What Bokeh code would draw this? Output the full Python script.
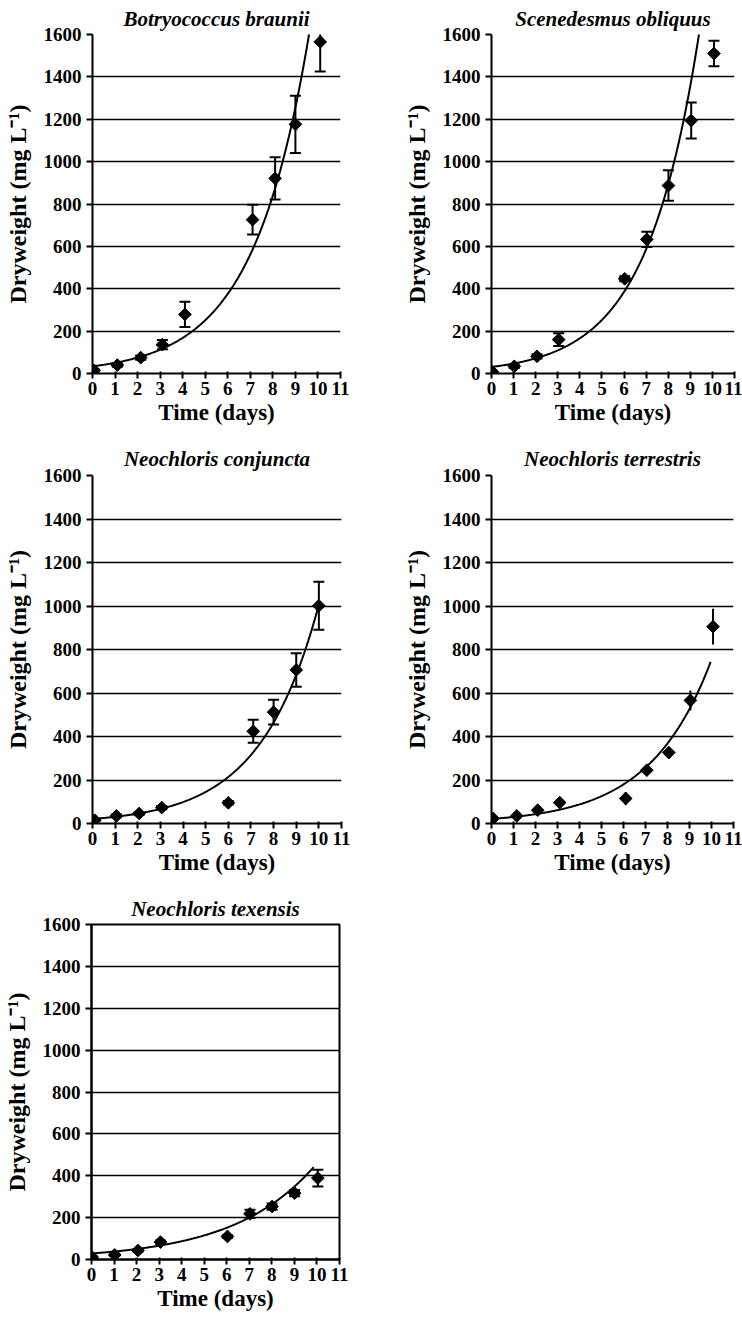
import numpy as np
from bokeh.plotting import figure
from bokeh.layouts import row, column
from bokeh.models import FixedTicker, Range1d
from bokeh.embed import file_html
from bokeh.resources import INLINE

# ---------------- data ----------------
species = ["Botryococcus braunii", "Scenedesmus obliquus", "Neochloris conjuncta",
           "Neochloris terrestris", "Neochloris texensis"]

bb_day = [0.07, 1.1, 2.14, 3.1, 4.1, 7.1, 8.1, 9.0, 10.1]
bb_dw = [15, 40, 75, 136, 279, 726, 921, 1176, 1565]
bb_err = [5, 8, 10, 22, 60, 70, 100, 135, 140]

so_day = [0.04, 1.03, 2.06, 3.04, 6.03, 7.03, 8.01, 9.04, 10.07]
so_dw = [8, 34, 81, 160, 447, 633, 887, 1194, 1510]
so_err = [5, 8, 10, 30, 12, 36, 72, 85, 60]

nc_day = [0.1, 1.06, 2.06, 3.06, 6.0, 7.1, 8.0, 9.0, 10.0]
nc_dw = [15, 35, 46, 73, 95, 424, 512, 706, 1001]
nc_err = [4, 6, 6, 8, 8, 53, 57, 77, 110]

nt_day = [0.07, 1.15, 2.1, 3.1, 6.1, 7.06, 8.06, 9.04, 10.07]
nt_dw = [23, 35, 61, 96, 115, 245, 326, 566, 905]
nt_err = [5, 6, 8, 10, 30, 20, 15, 46, 82]

nx_day = [0.03, 1.03, 2.06, 3.06, 6.03, 7.03, 8.01, 9.01, 10.04]
nx_dw = [11, 22, 43, 83, 110, 218, 253, 317, 389]
nx_err = [4, 5, 6, 8, 6, 20, 15, 15, 40]

# exponential trend lines  y = a * exp(b * t), drawn from t = 0 to t_end
trend_a = [33.7, 31.0, 21.0, 21.0, 28.8]
trend_b = [0.402, 0.42, 0.387, 0.358, 0.277]
trend_end = [10.1, 10.07, 10.0, 9.96, 9.85]

x_ticks = list(range(0, 12))
y_ticks = list(range(0, 1601, 200))

FONT = "Liberation Serif"


def make_panel(i, day, dw, err, width, height, left, right, top, bottom,
               title_standoff, boxed=False, caps=True):
    p = figure(width=width, height=height,
               x_range=Range1d(0, 11), y_range=Range1d(0, 1600),
               output_backend="svg", toolbar_location=None,
               min_border_left=left, min_border_right=right,
               min_border_top=top, min_border_bottom=bottom,
               title=species[i])
    p.background_fill_color = "white"
    p.border_fill_color = "white"
    if boxed:
        p.outline_line_color = "black"
        p.outline_line_width = 2
    else:
        p.outline_line_color = None

    p.title.align = "center"
    p.title.text_font = FONT
    p.title.text_font_style = "bold italic"
    p.title.text_font_size = "21px"
    p.title.text_color = "black"
    p.title.standoff = title_standoff

    p.xgrid.grid_line_color = None
    p.ygrid.grid_line_color = "black"
    p.ygrid.grid_line_width = 1.7
    p.ygrid.ticker = FixedTicker(ticks=y_ticks)

    p.xaxis.ticker = FixedTicker(ticks=x_ticks)
    p.yaxis.ticker = FixedTicker(ticks=y_ticks)
    for ax in (p.xaxis, p.yaxis):
        ax.axis_line_color = "black"
        ax.axis_line_width = 2
        ax.major_tick_line_color = "black"
        ax.major_tick_line_width = 2
        ax.minor_tick_line_color = None
        ax.major_label_text_font = FONT
        ax.major_label_text_font_style = "bold"
        ax.major_label_text_font_size = "19px"
        ax.major_label_text_color = "black"
        ax.axis_label_text_font = FONT
        ax.axis_label_text_font_style = "bold"
        ax.axis_label_text_color = "black"
    p.xaxis.major_tick_out = 5
    p.xaxis.major_tick_in = 2
    p.xaxis.major_label_standoff = 3
    p.xaxis.axis_label = "Time (days)"
    p.xaxis.axis_label_text_font_size = "23px"
    p.xaxis.axis_label_standoff = 2
    p.yaxis.major_tick_out = 6
    p.yaxis.major_tick_in = 0
    p.yaxis.major_label_standoff = 5
    p.yaxis.axis_label = "Dryweight (mg L\u207b\u00b9)"
    p.yaxis.axis_label_text_font_size = "24px"
    p.yaxis.axis_label_standoff = 10

    # trend line
    t = np.linspace(0, trend_end[i], 300)
    p.line(t, trend_a[i] * np.exp(trend_b[i] * t), line_color="black", line_width=2)

    # error bars
    lo = [v - e for v, e in zip(dw, err)]
    hi = [v + e for v, e in zip(dw, err)]
    p.segment(x0=day, y0=lo, x1=day, y1=hi, line_color="black", line_width=2)
    if caps:
        p.scatter(day, lo, marker="dash", size=11, line_color="black", line_width=2)
        p.scatter(day, hi, marker="dash", size=11, line_color="black", line_width=2)

    # data points (diamonds)
    p.scatter(day, dw, marker="square", angle=np.pi / 4, size=9,
              fill_color="black", line_color="black")
    return p


p1 = make_panel(0, bb_day, bb_dw, bb_err, 400, 440, 92, 60, 33, 67, 8)
p2 = make_panel(1, so_day, so_dw, so_err, 342, 440, 84, 8, 32, 65, 8)
p3 = make_panel(2, nc_day, nc_dw, nc_err, 400, 440, 92, 59, 34, 57, 9)
p4 = make_panel(3, nt_day, nt_dw, nt_err, 342, 440, 84, 9, 34, 57, 9, caps=False)
p5 = make_panel(4, nx_day, nx_dw, nx_err, 400, 438, 90, 61, 44, 59, 7, boxed=True)

layout = column(row(p1, p2), row(p3, p4), row(p5))

open("out.html", "w").write(file_html(layout, INLINE))
